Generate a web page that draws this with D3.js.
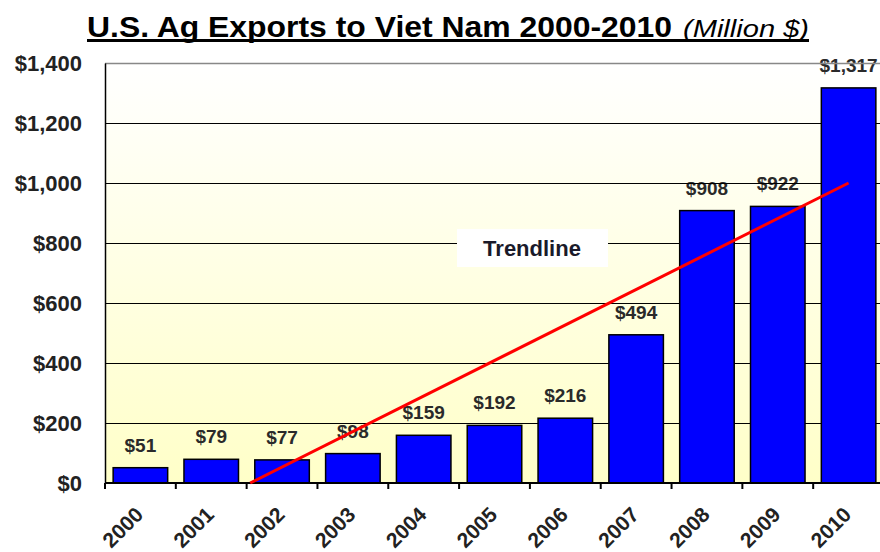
<!DOCTYPE html>
<html>
<head>
<meta charset="utf-8">
<script src="https://cdn.jsdelivr.net/npm/d3@7"></script>
<style>
  body { margin: 0; background: #fff; }
  svg text { font-family: "Liberation Sans", Arial, sans-serif; }
</style>
</head>
<body>
<div id="chart"></div>
<script>
// Data
var years = ["2000", "2001", "2002", "2003", "2004", "2005", "2006", "2007", "2008", "2009", "2010"];
var exports = [51, 79, 77, 98, 159, 192, 216, 494, 908, 922, 1317];
var barLabels = ["$51", "$79", "$77", "$98", "$159", "$192", "$216", "$494", "$908", "$922", "$1,317"];
var yTicks = [0, 200, 400, 600, 800, 1000, 1200, 1400];
var yTickLabels = ["$0", "$200", "$400", "$600", "$800", "$1,000", "$1,200", "$1,400"];
// Trendline ends (year position, value)
var trendYears = [2001.55, 2010];
var trendValues = [0, 1000];

var width = 880, height = 552;
var margin = {left: 105, right: -4, top: 63, bottom: 69};

var svg = d3.select("#chart").append("svg")
    .attr("width", width)
    .attr("height", height);

var x = d3.scaleBand()
    .domain(years)
    .range([margin.left, width - margin.right])
    .paddingInner(0.23)
    .paddingOuter(0.115);

var y = d3.scaleLinear()
    .domain([0, 1400])
    .range([height - margin.bottom, margin.top]);

var step = x.step();
var xCenter = d3.scaleLinear()
    .domain([2000, 2010])
    .range([x("2000") + x.bandwidth() / 2, x("2010") + x.bandwidth() / 2]);

// Background gradient
var grad = svg.append("defs").append("linearGradient")
    .attr("id", "bg")
    .attr("x1", 0).attr("y1", 0).attr("x2", 0).attr("y2", 1);
grad.append("stop").attr("offset", "0%").attr("stop-color", "#ffffff");
grad.append("stop").attr("offset", "100%").attr("stop-color", "#ffffc8");

svg.append("rect")
    .attr("x", margin.left)
    .attr("y", y(1400))
    .attr("width", width - margin.left)
    .attr("height", y(0) - y(1400))
    .attr("fill", "url(#bg)");

// Title, stretched to the width it has in the picture
var title = svg.append("text")
    .attr("x", 87)
    .attr("y", 37);
title.append("tspan")
    .attr("font-size", 29)
    .attr("font-weight", "bold")
    .attr("textLength", 585)
    .attr("lengthAdjust", "spacingAndGlyphs")
    .text("U.S. Ag Exports to Viet Nam 2000-2010");
title.append("tspan")
    .attr("x", 683)
    .attr("font-size", 24)
    .attr("font-style", "italic")
    .attr("textLength", 126)
    .attr("lengthAdjust", "spacingAndGlyphs")
    .text("(Million $)");

svg.append("rect")
    .attr("x", 87)
    .attr("y", 39)
    .attr("width", 722)
    .attr("height", 3)
    .attr("fill", "#000");

// Value labels (drawn under gridlines as in the picture)
svg.selectAll(".barlabel")
    .data(exports)
    .enter().append("text")
    .attr("class", "barlabel")
    .attr("x", function(d, i) { return x(years[i]) + x.bandwidth() / 2; })
    .attr("y", function(d) { return y(d) - 16; })
    .attr("text-anchor", "middle")
    .attr("font-size", 19)
    .attr("font-weight", "bold")
    .attr("fill", "#2a2a2a")
    .text(function(d, i) { return barLabels[i]; });

// Gridlines
svg.selectAll(".grid")
    .data(yTicks.slice(1))
    .enter().append("line")
    .attr("class", "grid")
    .attr("x1", margin.left)
    .attr("x2", width)
    .attr("y1", function(d) { return y(d) + 0.5; })
    .attr("y2", function(d) { return y(d) + 0.5; })
    .attr("stroke", function(d) { return d == 1400 ? "#888" : "#000"; })
    .attr("stroke-width", function(d) { return d == 1400 ? 1.5 : 1; });

// Bars
svg.selectAll(".bar")
    .data(exports)
    .enter().append("rect")
    .attr("class", "bar")
    .attr("x", function(d, i) { return x(years[i]); })
    .attr("y", function(d) { return y(d); })
    .attr("width", x.bandwidth())
    .attr("height", function(d) { return y(0) - y(d); })
    .attr("fill", "#0000ff")
    .attr("stroke", "#000")
    .attr("stroke-width", 1.5);

// Y axis
var yAxis = svg.append("g")
    .attr("transform", "translate(" + margin.left + ",0)")
    .call(d3.axisLeft(y).tickValues(yTicks).tickSize(0).tickPadding(23)
        .tickFormat(function(d, i) { return yTickLabels[i]; }));
yAxis.select(".domain").attr("stroke", "#000").attr("stroke-width", 1.5);
yAxis.selectAll("text")
    .attr("font-size", 22)
    .attr("font-weight", "bold")
    .attr("fill", "#222")
    .attr("font-family", "Liberation Sans, Arial, sans-serif");

// X axis: line and ticks at band boundaries
svg.append("line")
    .attr("x1", margin.left)
    .attr("x2", width)
    .attr("y1", y(0))
    .attr("y2", y(0))
    .attr("stroke", "#000")
    .attr("stroke-width", 2);

svg.selectAll(".xtick")
    .data(years)
    .enter().append("line")
    .attr("class", "xtick")
    .attr("x1", function(d) { return x(d) - step * 0.115; })
    .attr("x2", function(d) { return x(d) - step * 0.115; })
    .attr("y1", y(0))
    .attr("y2", y(0) + 6)
    .attr("stroke", "#000")
    .attr("stroke-width", 2);

svg.selectAll(".xlabel")
    .data(years)
    .enter().append("text")
    .attr("class", "xlabel")
    .attr("transform", function(d) {
        return "translate(" + (x(d) + x.bandwidth() / 2 + 4) + "," + (y(0) + 33) + ") rotate(-45)";
    })
    .attr("text-anchor", "end")
    .attr("font-size", 21)
    .attr("font-weight", "bold")
    .attr("fill", "#222")
    .text(function(d) { return d; });

// Trendline
var trend = d3.line()
    .x(function(d, i) { return xCenter(trendYears[i]); })
    .y(function(d) { return y(d); });

svg.append("path")
    .datum(trendValues)
    .attr("d", trend)
    .attr("fill", "none")
    .attr("stroke", "#ff0000")
    .attr("stroke-width", 3);

// Trendline label box
svg.append("rect")
    .attr("x", 457)
    .attr("y", 229)
    .attr("width", 151)
    .attr("height", 38)
    .attr("fill", "#fff");

svg.append("text")
    .attr("x", 532)
    .attr("y", 256)
    .attr("text-anchor", "middle")
    .attr("font-family", "Lato, 'Open Sans', sans-serif")
    .attr("font-size", 22)
    .attr("font-weight", "bold")
    .attr("fill", "#1a1a2a")
    .text("Trendline");
</script>
</body>
</html>
